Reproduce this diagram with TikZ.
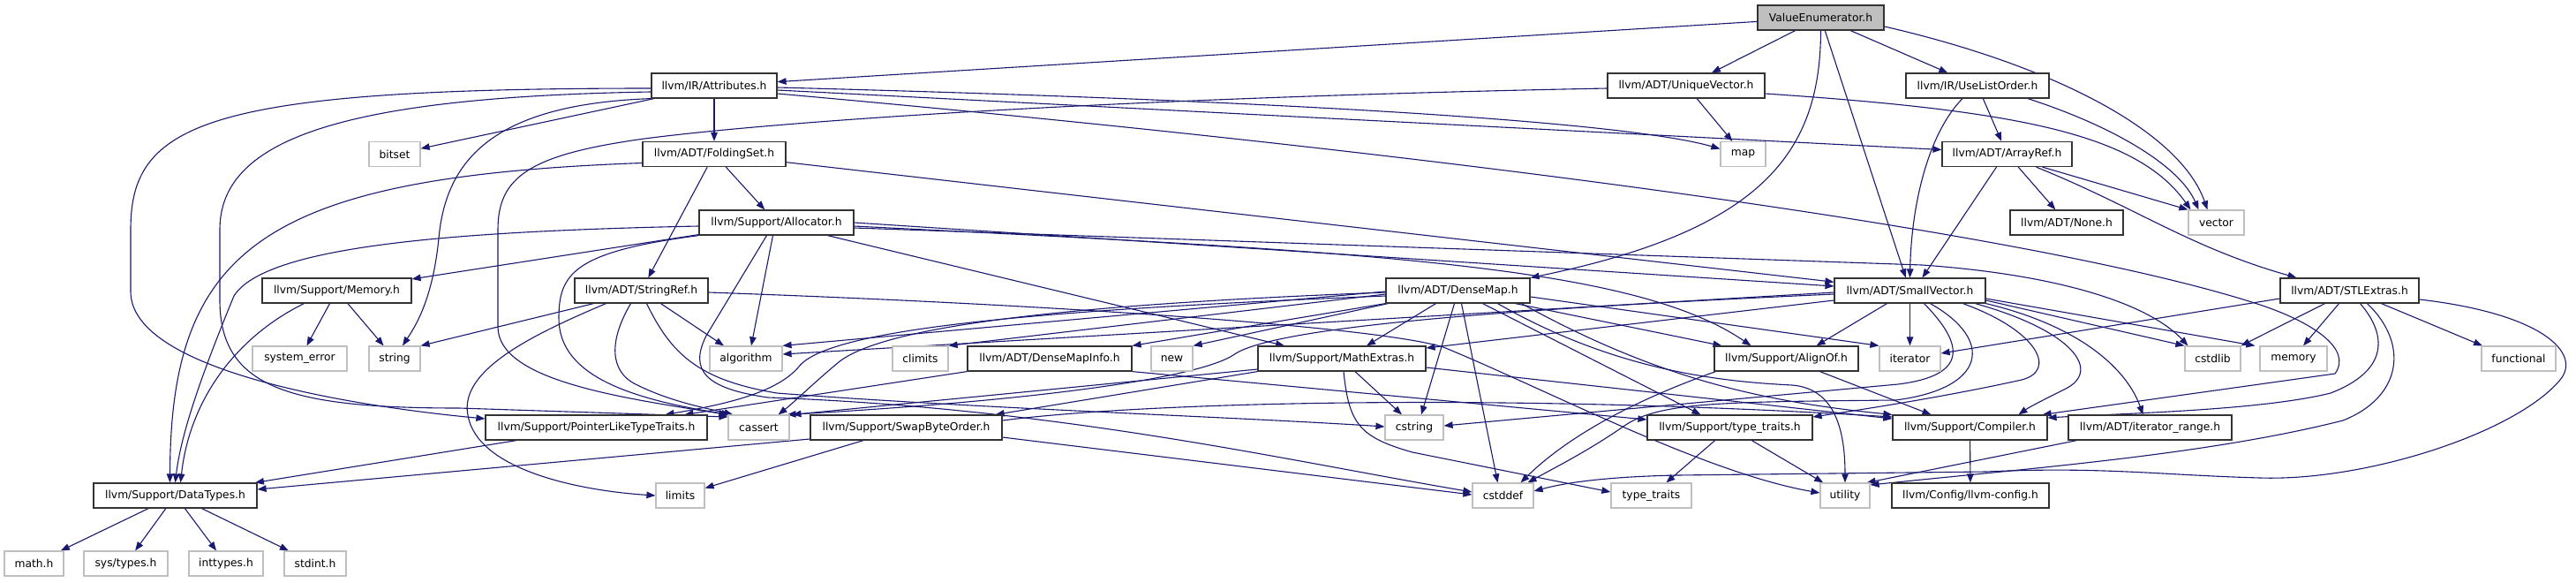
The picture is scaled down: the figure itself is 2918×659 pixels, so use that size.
\documentclass[tikz,border=0pt]{standalone}
\usepackage{fontspec}
\setmainfont{DejaVu Sans}
\usetikzlibrary{arrows.meta}
\pgfdeclarelayer{bg}
\pgfsetlayers{bg,main}
\definecolor{edgec}{HTML}{191970}
\definecolor{sysc}{HTML}{BFBFBF}
\begin{document}
\begin{tikzpicture}[x=1pt,y=-1pt,
  nbox/.style={rectangle, inner sep=0pt, minimum height=28pt, fill=white, font=\fontsize{12.3}{14}\selectfont, text=black},
  hdr/.style={nbox, draw=black!80, line width=1.2pt},
  sys/.style={nbox, draw=sysc, line width=1.2pt},
  root/.style={hdr, fill=sysc},
  edg/.style={draw=edgec, line width=1.1pt, -{Triangle[length=10pt,width=7.5pt]}},
]
\useasboundingbox (0,0) rectangle (2918,659);
% nodes
\node[root, minimum width=143] (ve) at (2062.5,20) {ValueEnumerator.h};
\node[hdr, minimum width=142] (attr) at (809,97) {llvm/IR/Attributes.h};
\node[hdr, minimum width=178] (uv) at (1910,97) {llvm/ADT/UniqueVector.h};
\node[hdr, minimum width=162] (ulo) at (2240,97) {llvm/IR/UseListOrder.h};
\node[sys, minimum width=58] (bitset) at (447,174.5) {bitset};
\node[hdr, minimum width=162] (fs) at (809,174.5) {llvm/ADT/FoldingSet.h};
\node[sys, minimum width=51] (map) at (1974.5,174.5) {map};
\node[hdr, minimum width=147] (ar) at (2273.5,174.5) {llvm/ADT/ArrayRef.h};
\node[hdr, minimum width=175] (alloc) at (879.5,252) {llvm/Support/Allocator.h};
\node[hdr, minimum width=128] (none) at (2341,252) {llvm/ADT/None.h};
\node[sys, minimum width=63] (vector) at (2510.5,252) {vector};
\node[hdr, minimum width=169] (mem) at (381.5,329) {llvm/Support/Memory.h};
\node[hdr, minimum width=151] (sr) at (726.5,329) {llvm/ADT/StringRef.h};
\node[hdr, minimum width=163] (dm) at (1651.5,329) {llvm/ADT/DenseMap.h};
\node[hdr, minimum width=171] (sv) at (2163.5,329) {llvm/ADT/SmallVector.h};
\node[hdr, minimum width=157] (stl) at (2661.5,329) {llvm/ADT/STLExtras.h};
\node[sys, minimum width=107] (syserr) at (339.5,406) {system\_error};
\node[sys, minimum width=58] (string) at (447,406) {string};
\node[sys, minimum width=82] (algorithm) at (845,406) {algorithm};
\node[sys, minimum width=63] (climits) at (1042.5,406) {climits};
\node[hdr, minimum width=186] (dmi) at (1189,406) {llvm/ADT/DenseMapInfo.h};
\node[sys, minimum width=47] (new) at (1327.5,406) {new};
\node[hdr, minimum width=190] (mathx) at (1520,406) {llvm/Support/MathExtras.h};
\node[hdr, minimum width=163] (alignof) at (2023.5,406) {llvm/Support/AlignOf.h};
\node[sys, minimum width=69] (iterator) at (2163.5,406) {iterator};
\node[sys, minimum width=63] (cstdlib) at (2506.5,406) {cstdlib};
\node[sys, minimum width=76] (memory) at (2598,406) {memory};
\node[sys, minimum width=84] (functional) at (2853,406) {functional};
\node[hdr, minimum width=251] (pltt) at (675.5,484) {llvm/Support/PointerLikeTypeTraits.h};
\node[sys, minimum width=69] (cassert) at (859.5,484) {cassert};
\node[hdr, minimum width=217] (sbo) at (1026.5,484) {llvm/Support/SwapByteOrder.h};
\node[sys, minimum width=66] (cstring) at (1602,484) {cstring};
\node[hdr, minimum width=187] (tt) at (1959.5,484) {llvm/Support/type\_traits.h};
\node[hdr, minimum width=175] (comp) at (2231.5,484) {llvm/Support/Compiler.h};
\node[hdr, minimum width=185] (itr) at (2435.5,484) {llvm/ADT/iterator\_range.h};
\node[hdr, minimum width=185] (dt) at (198.5,561) {llvm/Support/DataTypes.h};
\node[sys, minimum width=55] (limits) at (770.5,561) {limits};
\node[sys, minimum width=69] (cstddef) at (1702.5,561) {cstddef};
\node[sys, minimum width=91] (ttsys) at (1870.5,561) {type\_traits};
\node[sys, minimum width=56] (utility) at (2090,561) {utility};
\node[hdr, minimum width=178] (cfg) at (2232,561) {llvm/Config/llvm-config.h};
\node[sys, minimum width=67] (math) at (38.5,638) {math.h};
\node[sys, minimum width=95] (systypes) at (142.5,638) {sys/types.h};
\node[sys, minimum width=84] (inttypes) at (256,638) {inttypes.h};
\node[sys, minimum width=70] (stdint) at (357,638) {stdint.h};

\begin{pgfonlayer}{bg}
\fill[white] (0,0) rectangle (2918,659);
% ValueEnumerator.h
\draw[edg] (ve) -- (attr);
\draw[edg] (ve) -- (uv);
\draw[edg] (ve) -- (ulo);
\draw[edg] (ve) -- (sv);
\draw[edg] (ve.south) .. controls (2062,170) and (2000,260) .. (dm.north east);
\draw[edg] ([yshift=-10]ve.east) .. controls (2330,75) and (2470,150) .. ([xshift=-10]vector.north);
% Attributes.h
\draw[edg] (attr) -- (bitset);
\draw[edg] (attr) -- (fs);
\draw[edg] ([yshift=-3]attr.west) .. controls (230,100) and (148,140) .. (148,260) -- (148,330) .. controls (148,420) and (400,460) .. ([yshift=10]pltt.west);
\draw[edg] ([yshift=-7]attr.west) .. controls (380,110) and (249,160) .. (249,260) -- (249,340) .. controls (249,440) and (330,462) .. (520,462) -- ([yshift=12]cassert.west);
\draw[edg] (attr.south west) .. controls (560,118) and (505,180) .. (497,270) .. controls (490,340) and (470,370) .. ([xshift=9]string.north);
\draw[edg] ([yshift=-2]attr.east) .. controls (1500,115) and (1850,140) .. ([yshift=6]map.west);
\draw[edg] ([yshift=-5]attr.east) -- ([yshift=5]ar.west);
\draw[edg] ([yshift=-9]attr.east) .. controls (1600,170) and (2300,260) .. (2560,345) .. controls (2620,365) and (2665,395) .. (2645,423) -- ([xshift=-6]comp.north east);
% UniqueVector.h
\draw[edg] (uv) -- (map);
\draw[edg] ([yshift=-9]uv.east) .. controls (2280,125) and (2420,150) .. ([xshift=-29]vector.north);
\draw[edg] ([yshift=-3]uv.west) .. controls (1300,110) and (900,135) .. (730,157) .. controls (600,175) and (564,200) .. (564,260) -- (564,370) .. controls (564,430) and (700,450) .. (cassert.north west);
% UseListOrder.h
\draw[edg] (ulo) -- (ar);
\draw[edg] ([xshift=57]ulo.south) .. controls (2400,145) and (2470,190) .. ([xshift=-20]vector.north);
\draw[edg] ([xshift=-17]ulo.south) .. controls (2185,150) and (2165,230) .. (sv.north);
% FoldingSet.h
\draw[edg] (fs) -- (sr);
\draw[edg] (fs) -- (alloc);
\draw[edg] (fs) -- (sv);
\draw[edg] ([yshift=-10]fs.west) .. controls (300,200) and (193,280) .. ([xshift=-6]dt.north);
% ArrayRef.h
\draw[edg] (ar) -- (none);
\draw[edg] ([xshift=40]ar.south) -- (vector.north west);
\draw[edg] ([xshift=33]ar.south) .. controls (2420,235) and (2480,280) .. ([xshift=-60]stl.north);
\draw[edg] ([xshift=-12]ar.south) -- ([xshift=14]sv.north);
% Allocator.h
\draw[edg] (alloc) -- (mem);
\draw[edg] ([yshift=-4]alloc.west) .. controls (500,262) and (300,280) .. (265,335) .. controls (230,420) and (205,490) .. (dt.north);
\draw[edg] (alloc.south west) .. controls (650,285) and (633,310) .. (633,360) .. controls (633,420) and (700,450) .. ([xshift=3]cassert.north west);
\draw[edg] ([xshift=-4]alloc.south) -- ([xshift=6]algorithm.north);
\draw[edg] ([xshift=-11]alloc.south) -- (800,380) .. controls (780,420) and (800,440) .. (870,450) .. controls (1200,462) and (1450,520) .. ([yshift=4]cstddef.west);
\draw[edg] ([xshift=58]alloc.south) -- ([xshift=-65]mathx.north);
\draw[edg] (alloc.east) -- ([yshift=5]sv.west);
\draw[edg] ([yshift=-4]alloc.east) .. controls (1550,285) and (1850,300) .. ([xshift=-40]alignof.north);
\draw[edg] ([yshift=-6]alloc.east) -- (2177,300) .. controls (2320,310) and (2430,340) .. ([xshift=-28]cstdlib.north);
% Memory.h
\draw[edg] (mem) -- (syserr);
\draw[edg] (mem) -- (string);
\draw[edg] ([xshift=-37]mem.south) .. controls (270,380) and (215,450) .. ([xshift=6]dt.north);
% StringRef.h
\draw[edg] ([xshift=-54]sr.south) -- (string.north east);
\draw[edg] ([xshift=22]sr.south) -- ([xshift=-25]algorithm.north);
\draw[edg] ([xshift=-12]sr.south) .. controls (690,385) and (690,420) .. (720,435) .. controls (760,455) and (800,462) .. ([xshift=6]cassert.north west);
\draw[edg] ([xshift=6]sr.south) .. controls (760,400) and (790,430) .. (880,445) .. controls (1100,462) and (1400,472) .. ([yshift=1]cstring.west);
\draw[edg] ([xshift=-40]sr.south) .. controls (600,380) and (520,420) .. (530,470) .. controls (540,530) and (650,555) .. (limits.west);
\draw[edg] ([yshift=-2]sr.east) .. controls (1200,345) and (1560,370) .. (1635,393) .. controls (1750,440) and (1930,535) .. ([yshift=3]utility.west);
% DenseMap.h
\draw[edg] (dm.south west) -- (dmi.north east);
\draw[edg] ([xshift=3]dm.south west) -- (new.north east);
\draw[edg] ([yshift=-4]dm.west) -- (climits.north east);
\draw[edg] ([yshift=-1]dm.west) -- (algorithm.north east);
\draw[edg] ([yshift=-2]dm.west) .. controls (1200,345) and (1000,370) .. (950,410) .. controls (920,435) and (900,455) .. ([xshift=22]cassert.north);
\draw[edg] ([yshift=-6]dm.west) .. controls (1200,350) and (940,370) .. (905,415) .. controls (880,445) and (820,458) .. ([xshift=78]pltt.north);
\draw[edg] ([xshift=-25]dm.south) -- ([xshift=28]mathx.north);
\draw[edg] ([xshift=-4]dm.south) -- ([xshift=8]cstring.north);
\draw[edg] ([xshift=4]dm.south) -- ([xshift=-6]cstddef.north);
\draw[edg] ([xshift=28]dm.south) -- ([xshift=-33]tt.north);
\draw[edg] ([xshift=45]dm.south) .. controls (1830,420) and (1950,432) .. (2030,436) .. controls (2080,440) and (2090,490) .. (utility.north);
\draw[edg] ([xshift=65]dm.south) -- ([xshift=-73]alignof.north);
\draw[edg] ([yshift=-7]dm.east) -- (iterator.north west);
\draw[edg] ([xshift=72]dm.south) .. controls (1880,430) and (2000,455) .. (comp.north west);
% SmallVector.h
\draw[edg] (sv) -- (iterator);
\draw[edg] ([xshift=-26]sv.south) -- ([xshift=34]alignof.north);
\draw[edg] ([yshift=-11]sv.west) -- ([yshift=12]mathx.east);
\draw[edg] ([yshift=-2]sv.west) -- ([yshift=5]algorithm.east);
\draw[edg] ([yshift=-4]sv.west) .. controls (1700,350) and (1450,370) .. (1400,400) .. controls (1360,430) and (1150,455) .. ([xshift=32]cassert.north);
\draw[edg] ([xshift=16]sv.south) .. controls (2225,390) and (2230,425) .. (2150,435) -- ([yshift=2]cstring.east);
\draw[edg] ([xshift=23]sv.south) .. controls (2260,385) and (2250,440) .. (2147,453) .. controls (1950,455) and (1880,455) .. (1840,482) .. controls (1800,510) and (1760,530) .. ([xshift=28]cstddef.north);
\draw[edg] ([xshift=60]sv.south) .. controls (2310,375) and (2330,420) .. (2290,430) .. controls (2200,450) and (2100,465) .. ([yshift=12]tt.east);
\draw[edg] ([xshift=74]sv.south) .. controls (2350,375) and (2380,420) .. (2340,440) .. controls (2320,450) and (2300,460) .. ([xshift=55]comp.north);
\draw[edg] (sv.south east) .. controls (2360,370) and (2410,420) .. ([xshift=-8]itr.north);
\draw[edg] ([yshift=-11]sv.east) -- (cstdlib.north west);
\draw[edg] ([yshift=-9]sv.east) -- ([xshift=-5]memory.north west);
% STLExtras.h
\draw[edg] ([yshift=-9]stl.west) -- ([yshift=6]iterator.east);
\draw[edg] ([xshift=-28]stl.south) -- (cstdlib.north east);
\draw[edg] ([xshift=-12]stl.south) -- ([xshift=11]memory.north);
\draw[edg] ([xshift=36]stl.south) -- ([xshift=-41]functional.north);
\draw[edg] ([xshift=12]stl.south) .. controls (2705,380) and (2705,420) .. (2640,445) .. controls (2560,465) and (2400,468) .. ([yshift=11]comp.east);
\draw[edg] ([xshift=20]stl.south) .. controls (2730,390) and (2720,450) .. (2654,476) .. controls (2500,515) and (2300,530) .. ([yshift=12]utility.east);
\draw[edg] ([yshift=-10]stl.east) .. controls (2880,355) and (2925,400) .. (2900,430) .. controls (2850,490) and (2680,545) .. (2560,541) .. controls (2450,538) and (2380,528) .. (2250,534) -- (1900,538) .. controls (1800,540) and (1760,550) .. ([yshift=5]cstddef.east);
% iterator_range.h
\draw[edg] ([xshift=-83]itr.south) -- ([xshift=-4]utility.north east);
% MathExtras.h
\draw[edg] ([xshift=15]mathx.south) -- ([xshift=-14]cstring.north);
\draw[edg] ([xshift=2]mathx.south) .. controls (1528,480) and (1540,495) .. (1600,512) -- ([yshift=4]ttsys.west);
\draw[edg] ([yshift=-10]mathx.east) -- ([yshift=10]comp.west);
\draw[edg] (mathx.south west) -- ([xshift=-8]sbo.north east);
\draw[edg] ([yshift=-12]mathx.west) -- ([xshift=38]cassert.north);
% SwapByteOrder.h
\draw[edg] ([yshift=-13]sbo.west) -- ([yshift=7]dt.east);
\draw[edg] (sbo) -- (limits);
\draw[edg] ([yshift=-11]sbo.east) -- ([yshift=1]cstddef.west);
\draw[edg] ([yshift=8]sbo.east) .. controls (1300,455) and (1700,445) .. ([yshift=12]comp.west);
% AlignOf.h
\draw[edg] ([xshift=38]alignof.south) -- ([xshift=-44]comp.north);
\draw[edg] ([xshift=-80]alignof.south) .. controls (1860,450) and (1780,490) .. ([xshift=20]cstddef.north);
% type_traits.h
\draw[edg] (tt) -- (ttsys);
\draw[edg] (tt) -- (utility);
% DenseMapInfo.h
\draw[edg] (dmi.south west) -- ([xshift=100]pltt.north);
\draw[edg] (dmi.south east) -- ([yshift=9]tt.west);
% PointerLikeTypeTraits.h
\draw[edg] (pltt) -- (dt);
% Compiler.h
\draw[edg] (comp) -- (cfg);
% DataTypes.h
\draw[edg] (dt) -- (math);
\draw[edg] (dt) -- (systypes);
\draw[edg] (dt) -- (inttypes);
\draw[edg] (dt) -- (stdint);
\end{pgfonlayer}
\end{tikzpicture}
\end{document}
